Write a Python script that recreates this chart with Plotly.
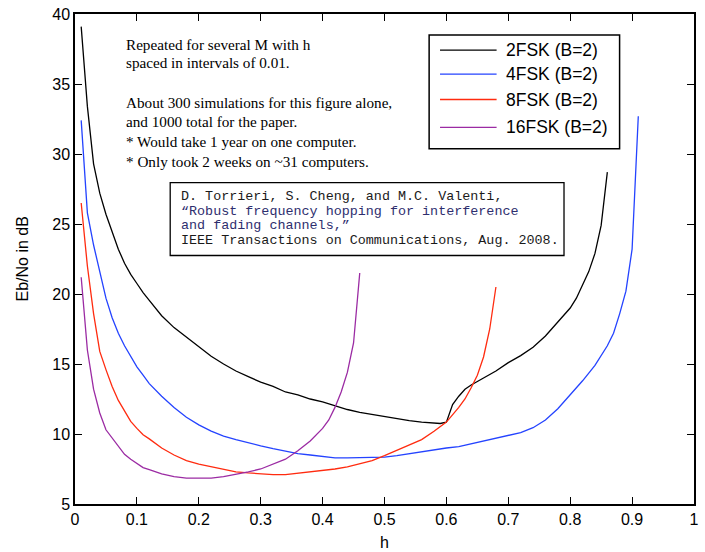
import plotly.graph_objects as go

# ---- data ----
h_2fsk = [0.01, 0.02, 0.03, 0.04, 0.05, 0.06, 0.07, 0.08, 0.09, 0.10, 0.11, 0.12, 0.14, 0.16,
          0.18, 0.20, 0.22, 0.24, 0.26, 0.28, 0.30, 0.32, 0.34, 0.36, 0.38, 0.40, 0.42, 0.44,
          0.46, 0.48, 0.50, 0.52, 0.54, 0.56, 0.58, 0.59, 0.60, 0.61, 0.62, 0.63, 0.64, 0.66,
          0.68, 0.70, 0.72, 0.74, 0.76, 0.78, 0.80, 0.81, 0.82, 0.83, 0.84, 0.85, 0.86]
eb_2fsk = [39.1, 33.4, 29.3, 27.2, 25.7, 24.5, 23.2, 22.2, 21.4, 20.75, 20.1, 19.55, 18.45, 17.6,
           16.9, 16.2, 15.55, 15.0, 14.5, 14.1, 13.7, 13.4, 13.0, 12.8, 12.5, 12.3, 12.0, 11.75,
           11.55, 11.4, 11.25, 11.05, 10.95, 10.85, 10.75, 10.75, 10.85, 12.1, 12.7, 13.2, 13.5, 14.0,
           14.5, 15.1, 15.6, 16.2, 17.0, 18.0, 19.0, 19.7, 20.6, 21.6, 22.9, 24.9, 28.7]

h_4fsk = [0.01, 0.02, 0.03, 0.04, 0.05, 0.06, 0.07, 0.08, 0.09, 0.10, 0.11, 0.12, 0.14, 0.16,
          0.18, 0.20, 0.22, 0.24, 0.26, 0.28, 0.30, 0.32, 0.34, 0.36, 0.38, 0.40, 0.42, 0.44,
          0.46, 0.48, 0.50, 0.52, 0.54, 0.56, 0.58, 0.60, 0.62, 0.64, 0.66, 0.68, 0.70, 0.72,
          0.74, 0.76, 0.78, 0.80, 0.82, 0.84, 0.86, 0.87, 0.88, 0.89, 0.90, 0.91]
eb_4fsk = [32.4, 25.8, 23.5, 21.5, 19.7, 18.3, 17.2, 16.3, 15.5, 14.8, 14.2, 13.6, 12.7, 11.9,
           11.2, 10.65, 10.2, 9.85, 9.6, 9.35, 9.15, 8.95, 8.75, 8.6, 8.5, 8.4, 8.3, 8.3,
           8.3, 8.3, 8.35, 8.45, 8.6, 8.7, 8.85, 9.0, 9.1, 9.3, 9.45, 9.65, 9.85, 10.1,
           10.45, 11.0, 11.8, 12.8, 13.8, 14.9, 16.3, 17.2, 18.6, 20.2, 23.2, 32.7]

h_8fsk = [0.01, 0.02, 0.03, 0.04, 0.05, 0.06, 0.07, 0.08, 0.09, 0.10, 0.11, 0.12, 0.14, 0.16,
          0.18, 0.20, 0.22, 0.24, 0.26, 0.28, 0.30, 0.32, 0.34, 0.36, 0.38, 0.40, 0.42, 0.44,
          0.46, 0.48, 0.50, 0.52, 0.54, 0.56, 0.58, 0.60, 0.62, 0.63, 0.64, 0.65, 0.66, 0.67, 0.68]
eb_8fsk = [26.5, 22.0, 18.6, 15.9, 14.6, 13.4, 12.4, 11.6, 10.9, 10.4, 9.95, 9.65, 9.0, 8.5,
           8.1, 7.85, 7.65, 7.45, 7.3, 7.22, 7.15, 7.1, 7.1, 7.2, 7.25, 7.35, 7.5, 7.65,
           7.85, 8.1, 8.45, 8.85, 9.2, 9.6, 10.2, 10.85, 11.9, 12.5, 13.3, 14.2, 15.5, 17.5, 20.5]

h_16fsk = [0.01, 0.02, 0.03, 0.04, 0.05, 0.06, 0.07, 0.08, 0.09, 0.10, 0.11, 0.12, 0.13, 0.14,
           0.16, 0.18, 0.20, 0.22, 0.24, 0.26, 0.28, 0.30, 0.32, 0.34, 0.36, 0.38, 0.40, 0.41,
           0.42, 0.43, 0.44, 0.45, 0.46]
eb_16fsk = [21.2, 16.0, 13.2, 11.5, 10.3, 9.7, 9.1, 8.55, 8.2, 7.9, 7.6, 7.45, 7.3, 7.15,
            6.95, 6.85, 6.85, 6.85, 6.95, 7.1, 7.3, 7.5, 7.85, 8.2, 8.8, 9.5, 10.4, 11.0,
            11.9, 13.0, 14.4, 16.5, 21.5]

series_names = ["2FSK (B=2)", "4FSK (B=2)", "8FSK (B=2)", "16FSK (B=2)"]
series_colors = ["#000000", "#2443ff", "#ff2b0f", "#9b2ba3"]

x_ticks = [0, 0.1, 0.2, 0.3, 0.4, 0.5, 0.6, 0.7, 0.8, 0.9, 1]
x_tick_text = ["0", "0.1", "0.2", "0.3", "0.4", "0.5", "0.6", "0.7", "0.8", "0.9", "1"]
y_ticks = [5, 10, 15, 20, 25, 30, 35, 40]

note_lines = ["Repeated for several M with h", "spaced in intervals of 0.01.",
              "About 300 simulations for this figure alone,", "and 1000 total for the paper.",
              "* Would take 1 year on one computer.", "* Only took 2 weeks on ~31 computers."]
note_y = [37.79, 36.51, 33.66, 32.30, 30.88, 29.45]

cite_lines = ["D. Torrieri, S. Cheng, and M.C. Valenti,",
              "\u201cRobust frequency hopping for interference",
              "and fading channels,\u201d",
              "IEEE Transactions on Communications, Aug. 2008."]
cite_colors = ["#1a1a1a", "#2e2e6e", "#2e2e6e", "#1a1a1a"]
cite_y = [26.98, 25.91, 24.89, 23.82]

# legend layout (paper coords)
leg_rows = [0.9261, 0.8772, 0.8255, 0.7685]

fig = go.Figure()
for hx, ey, name, col in zip([h_2fsk, h_4fsk, h_8fsk, h_16fsk],
                             [eb_2fsk, eb_4fsk, eb_8fsk, eb_16fsk],
                             series_names, series_colors):
    fig.add_trace(go.Scatter(x=hx, y=ey, mode="lines", name=name, showlegend=False,
                             line=dict(color=col, width=1.3)))

annotations = []
shapes = []
for t, yy in zip(note_lines, note_y):
    annotations.append(dict(x=0.0785, y=yy, xref="x", yref="y", text=t, showarrow=False,
                            xanchor="left", yanchor="middle",
                            font=dict(family="Liberation Serif", size=15.2, color="#000")))
for t, yy, c in zip(cite_lines, cite_y, cite_colors):
    annotations.append(dict(x=0.168, y=yy, xref="x", yref="y", text=t, showarrow=False,
                            xanchor="left", yanchor="middle",
                            font=dict(family="Liberation Mono", size=13.4, color=c)))
shapes.append(dict(type="rect", xref="x", yref="y", x0=0.1538, x1=0.790, y0=22.75, y1=27.95,
                   line=dict(color="#000", width=1.3), fillcolor="white", layer="below"))

# legend box
shapes.append(dict(type="rect", xref="paper", yref="paper", x0=0.5721, x1=0.8798,
                   y0=0.7251, y1=0.9572, line=dict(color="#000", width=1.5),
                   fillcolor="white", layer="above"))
for name, col, yy in zip(series_names, series_colors, leg_rows):
    shapes.append(dict(type="line", xref="paper", yref="paper", x0=0.5897, x1=0.6811,
                       y0=yy, y1=yy, line=dict(color=col, width=1.3), layer="above"))
    annotations.append(dict(x=0.6923, y=yy, xref="paper", yref="paper", text=name,
                            showarrow=False, xanchor="left", yanchor="middle",
                            font=dict(family="Liberation Sans", size=17.5, color="#000")))

annotations.append(dict(x=-0.0849, y=0.5, xref="paper", yref="paper", text="Eb/No in dB",
                        textangle=-90, showarrow=False, xanchor="center", yanchor="middle",
                        font=dict(family="Liberation Sans", size=16, color="#000")))
annotations.append(dict(x=0.5, y=-0.0794, xref="paper", yref="paper", text="h",
                        showarrow=False, xanchor="center", yanchor="middle",
                        font=dict(family="Liberation Sans", size=16, color="#000")))

fig.update_layout(
    width=705, height=552, autosize=False,
    margin=dict(l=75, r=6, t=13, b=48),
    paper_bgcolor="white", plot_bgcolor="white",
    font=dict(family="Liberation Sans", size=16, color="#000"),
    showlegend=False,
    annotations=annotations,
    shapes=shapes,
    xaxis=dict(range=[0, 1], tickvals=x_ticks, ticktext=x_tick_text,
               showgrid=False, zeroline=False, showline=True, linecolor="#000",
               linewidth=1.5, mirror="ticks", ticks="inside", ticklen=7, tickwidth=1.3,
               tickcolor="#000", tickfont=dict(size=16)),
    yaxis=dict(range=[5, 40], tickvals=y_ticks,
               showgrid=False, zeroline=False, showline=True, linecolor="#000",
               linewidth=1.5, mirror="ticks", ticks="inside", ticklen=7, tickwidth=1.3,
               tickcolor="#000", tickfont=dict(size=16)),
)

fig.write_html("out.html", config={"responsive": False, "displayModeBar": False},
               post_script="document.body.style.margin='0px';document.body.style.overflow='hidden';")
